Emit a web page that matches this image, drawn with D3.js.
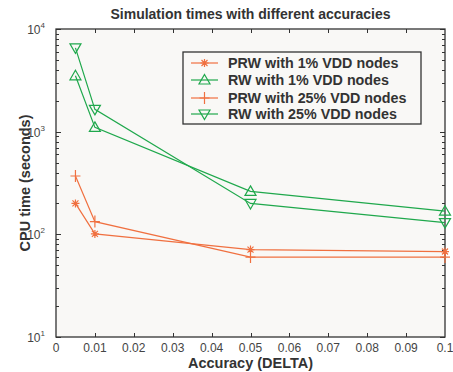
<!DOCTYPE html>
<html>
<head>
<meta charset="utf-8">
<script src="https://cdn.jsdelivr.net/npm/d3@7"></script>
<style>
  body { margin: 0; background: #fff; }
  text { font-family: "Liberation Sans", Arial, Helvetica, sans-serif; }
</style>
</head>
<body>
<div id="chart"></div>
<script>
// accuracy values (x) and cpu time in seconds (y)
var accuracy = [0.005, 0.01, 0.05, 0.1];
var prw1 = [200, 101, 71, 68];
var rw1 = [3500, 1100, 262, 168];
var prw25 = [370, 133, 60, 60];
var rw25 = [6550, 1650, 200, 130];

var seriesNames = ["PRW with 1% VDD nodes", "RW with 1% VDD nodes",
                   "PRW with 25% VDD nodes", "RW with 25% VDD nodes"];
var xTicks = [0, 0.01, 0.02, 0.03, 0.04, 0.05, 0.06, 0.07, 0.08, 0.09, 0.1];
var xTickLabels = ["0", "0.01", "0.02", "0.03", "0.04", "0.05", "0.06", "0.07", "0.08", "0.09", "0.1"];
var yExponents = [1, 2, 3, 4];

var w = 453, h = 372;
var pLeft = 56, pRight = 445, pTop = 29, pBottom = 337;
var orange = "#f07040", green = "#1fa84c";

var svg = d3.select("#chart").append("svg")
            .attr("width", w)
            .attr("height", h);

var xscale = d3.scaleLinear().domain([0, 0.1]).range([pLeft, pRight]);
var yscale = d3.scaleLog().domain([10, 10000]).range([pBottom, pTop]);

svg.append("rect")
   .attr("x", pLeft).attr("y", pTop)
   .attr("width", pRight - pLeft).attr("height", pBottom - pTop)
   .style("fill", "#f9f8f6");

// ticks, drawn inward on all four sides
var minor = [];
yExponents.slice(0, 3).forEach(function(e) {
    for (var k = 2; k <= 9; k++) minor.push(k * Math.pow(10, e));
});
var ticks = svg.append("g").style("stroke", "#333").style("stroke-width", 1);
xTicks.slice(1, -1).forEach(function(t) {
    var x = Math.round(xscale(t)) + 0.5;
    ticks.append("line").attr("x1", x).attr("x2", x).attr("y1", pBottom).attr("y2", pBottom - 4);
    ticks.append("line").attr("x1", x).attr("x2", x).attr("y1", pTop).attr("y2", pTop + 4);
});
yExponents.forEach(function(e) {
    var y = Math.round(yscale(Math.pow(10, e))) + 0.5;
    ticks.append("line").attr("x1", pLeft).attr("x2", pLeft + 5).attr("y1", y).attr("y2", y);
    ticks.append("line").attr("x1", pRight).attr("x2", pRight - 5).attr("y1", y).attr("y2", y);
});
minor.forEach(function(v) {
    var y = Math.round(yscale(v)) + 0.5;
    ticks.append("line").attr("x1", pLeft).attr("x2", pLeft + 3).attr("y1", y).attr("y2", y);
    ticks.append("line").attr("x1", pRight).attr("x2", pRight - 3).attr("y1", y).attr("y2", y);
});

// frame
svg.append("rect")
   .attr("x", pLeft).attr("y", pTop)
   .attr("width", pRight - pLeft).attr("height", pBottom - pTop)
   .style("fill", "none").style("stroke", "#333").style("stroke-width", 1.3);

// tick labels
svg.selectAll(".xlab").data(xTicks).enter()
   .append("text")
   .attr("x", function(d) { return xscale(d); })
   .attr("y", pBottom + 15)
   .attr("text-anchor", "middle")
   .style("font-size", "12px").style("fill", "#444")
   .text(function(d, i) { return xTickLabels[i]; });

var ylab = svg.selectAll(".ylab").data(yExponents).enter()
   .append("text")
   .attr("x", pLeft - 11)
   .attr("y", function(d) { return yscale(Math.pow(10, d)) + 5; })
   .attr("text-anchor", "end")
   .style("font-size", "12px").style("fill", "#444");
ylab.append("tspan").text("10");
ylab.append("tspan").attr("dy", -6).style("font-size", "8px").text(function(d) { return d; });

// titles
svg.append("text")
   .attr("x", (pLeft + pRight) / 2).attr("y", 19)
   .attr("text-anchor", "middle")
   .style("font-size", "14px").style("font-weight", "bold").style("fill", "#333")
   .text("Simulation times with different accuracies");

svg.append("text")
   .attr("x", (pLeft + pRight) / 2).attr("y", 368)
   .attr("text-anchor", "middle")
   .style("font-size", "14.5px").style("font-weight", "bold").style("fill", "#333")
   .text("Accuracy (DELTA)");

svg.append("text")
   .attr("transform", "translate(30," + ((pTop + pBottom) / 2) + ") rotate(-90)")
   .attr("text-anchor", "middle")
   .style("font-size", "14.5px").style("font-weight", "bold").style("fill", "#333")
   .text("CPU time (seconds)");

// markers
var markers = {
    star: function(g) {
        g.append("path").attr("d", "M-4,0H4M0,-4V4M-3,-3L3,3M-3,3L3,-3");
    },
    up: function(g) {
        g.append("path").attr("d", "M0,-5.5L5.5,4L-5.5,4Z").style("fill", "none");
    },
    plus: function(g) {
        g.append("path").attr("d", "M-5,0H5M0,-6V6");
    },
    down: function(g) {
        g.append("path").attr("d", "M0,5.5L5.5,-4L-5.5,-4Z").style("fill", "none");
    }
};

var series = [
    { name: seriesNames[0], values: prw1, color: orange, marker: "star" },
    { name: seriesNames[1], values: rw1, color: green, marker: "up" },
    { name: seriesNames[2], values: prw25, color: orange, marker: "plus" },
    { name: seriesNames[3], values: rw25, color: green, marker: "down" }
];

var line = d3.line()
             .x(function(d) { return xscale(d[0]); })
             .y(function(d) { return yscale(d[1]); });

series.forEach(function(s) {
    var pts = accuracy.map(function(a, i) { return [a, s.values[i]]; });
    svg.append("path")
       .attr("d", line(pts))
       .style("fill", "none").style("stroke", s.color).style("stroke-width", 1.2);
    pts.forEach(function(p) {
        var g = svg.append("g")
                   .attr("transform", "translate(" + xscale(p[0]) + "," + yscale(p[1]) + ")")
                   .style("stroke", s.color).style("stroke-width", 1.2).style("fill", "none");
        markers[s.marker](g);
    });
});

// legend
var lx = 183, ly = 52, lw = 238, lh = 72;
svg.append("rect")
   .attr("x", lx).attr("y", ly).attr("width", lw).attr("height", lh)
   .style("fill", "#f9f8f6").style("stroke", "#333").style("stroke-width", 1.3);

var rowY = [63, 80, 98, 114];
series.forEach(function(s, i) {
    var y = rowY[i];
    svg.append("line")
       .attr("x1", 191).attr("x2", 218).attr("y1", y).attr("y2", y)
       .style("stroke", s.color).style("stroke-width", 1.2);
    var g = svg.append("g")
               .attr("transform", "translate(204.5," + y + ")")
               .style("stroke", s.color).style("stroke-width", 1.2).style("fill", "none");
    markers[s.marker](g);
    svg.append("text")
       .attr("x", 228).attr("y", y + 5)
       .style("font-size", "14.3px").style("font-weight", "bold").style("fill", "#333")
       .text(s.name);
});
</script>
</body>
</html>
